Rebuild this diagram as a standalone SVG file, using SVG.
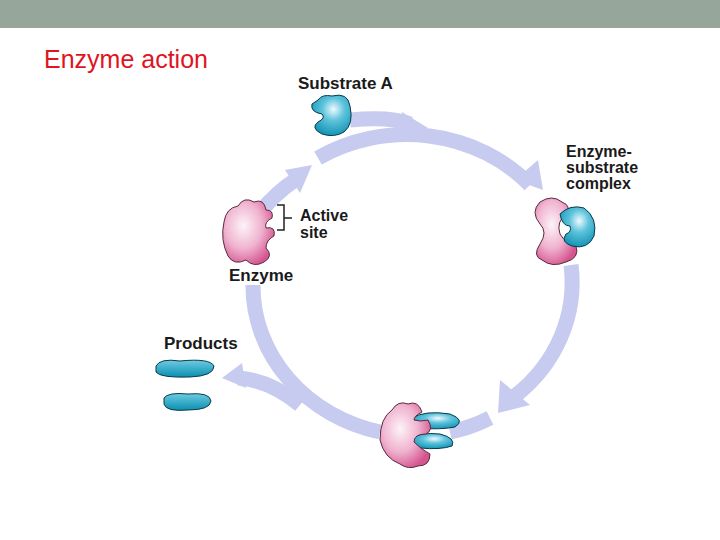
<svg xmlns="http://www.w3.org/2000/svg" width="720" height="540" viewBox="0 0 720 540">
<defs>
<radialGradient id="pink" cx="0.4" cy="0.4" r="0.65"><stop offset="0" stop-color="#fdf3f8"/><stop offset="0.55" stop-color="#f0b3cf"/><stop offset="1" stop-color="#d4558f"/></radialGradient>
<radialGradient id="blue" cx="0.55" cy="0.35" r="0.7"><stop offset="0" stop-color="#eefaff"/><stop offset="0.4" stop-color="#5fc3dc"/><stop offset="1" stop-color="#0a8fb0"/></radialGradient>
<linearGradient id="prod" x1="0" y1="0" x2="0" y2="1"><stop offset="0" stop-color="#6dcbe2"/><stop offset="1" stop-color="#0a8fb0"/></linearGradient>
<style>
.ring{fill:none;stroke:#c6cbef;stroke-width:15}
.head{fill:#c6cbef}
.lbl{font-family:"Liberation Sans",Arial,sans-serif;font-weight:bold;font-size:17px;fill:#1a1a1a}
.sm{font-size:16px}
.enz{fill:url(#pink);stroke:#5a2a40;stroke-width:1}
.sub{fill:url(#blue);stroke:#0b3a4a;stroke-width:1}
.pr{fill:url(#prod);stroke:#0b3a4a;stroke-width:1}
</style>
</defs>
<rect width="720" height="540" fill="#fff"/>
<rect width="720" height="28" fill="#97a69b"/>
<text x="44" y="68" font-family="Liberation Sans,Arial,sans-serif" font-size="25" fill="#e0141e">Enzyme action</text>
<g id="connectors">
<path class="ring" d="M253 222 A165 150 0 0 1 298 178"/>
<polygon class="head" points="285,170 312,165 300,193"/>
<path class="ring" d="M318 158 A165 150 0 0 1 530 185"/>
<polygon class="head" points="515,180 543,190 538,160"/>
<path class="ring" d="M350 120 Q390 116 410 124"/>
<polygon class="head" points="402,112 428,128 400,137"/>
<path class="ring" d="M571 265 A165 150 0 0 1 515 396"/>
<polygon class="head" points="500,380 498,413 530,405"/>
<path class="ring" d="M490 418 Q470 428 450 432"/>
<path class="ring" d="M380 432 A165 150 0 0 1 253 285"/>
<path class="ring" d="M300 405 Q270 380 238 378"/>
<polygon class="head" points="242,363 222,378 246,388"/>
</g>
<g id="substrate">
<path class="sub" d="M318 100 Q322 94 332 96 Q348 92 350 106 Q354 124 344 132 Q334 138 322 134 Q310 128 318 122 Q326 118 322 114 Q310 112 312 104 Z"/>
<text class="lbl" x="298" y="89">Substrate A</text>
</g>
<g id="enzyme">
<path class="enz" d="M238 206 Q244 196 254 202 Q264 198 266 210 Q274 210 272 218 Q264 222 266 228 Q276 226 274 236 Q266 240 266 248 Q274 256 264 262 Q254 268 246 260 Q234 266 228 256 Q220 240 224 222 Q226 208 238 206 Z"/>
<path d="M277 205 L284 205 L284 230 L277 230 M284 218 L292 218" fill="none" stroke="#222" stroke-width="1.5"/>
<text class="lbl sm" x="300" y="221">Active</text>
<text class="lbl sm" x="300" y="238">site</text>
<text class="lbl" x="229" y="281">Enzyme</text>
</g>
<g id="complex">
<path class="enz" d="M540 202 Q552 194 562 202 Q572 206 566 214 Q556 222 560 234 Q566 244 576 246 Q580 258 566 262 Q552 268 542 260 Q532 256 540 244 Q548 232 540 224 Q530 212 540 202 Z"/>
<path class="sub" d="M560 214 Q570 204 584 208 Q598 218 594 236 Q588 250 572 246 Q560 242 566 234 Q572 232 570 226 Q562 226 560 214 Z"/>
<text class="lbl sm" x="566" y="157">Enzyme-</text>
<text class="lbl sm" x="566" y="173">substrate</text>
<text class="lbl sm" x="566" y="189">complex</text>
</g>
<g id="enzyme-products">
<path class="sub" d="M412 418 Q425 410 450 414 Q466 420 455 427 Q440 430 418 428 Q410 424 412 418 Z"/>
<path class="sub" d="M412 438 Q420 432 440 434 Q456 438 452 446 Q440 450 420 448 Q410 446 412 438 Z"/>
<path class="enz" d="M392 410 Q398 400 408 404 Q418 400 422 412 Q414 416 414 420 Q420 422 428 420 Q434 430 426 434 Q414 434 414 442 Q422 450 430 454 Q430 466 418 466 Q408 470 400 464 Q384 458 380 440 Q380 418 392 410 Z"/>
</g>
<g id="products">
<text class="lbl" x="164" y="349">Products</text>
<path class="pr" d="M156 366 Q160 358 180 361 Q210 358 214 366 Q214 376 190 377 Q160 378 156 372 Z"/>
<path class="pr" d="M164 398 Q168 392 188 394 Q210 392 211 401 Q210 410 188 410 Q166 412 164 404 Z"/>
</g>
</svg>
